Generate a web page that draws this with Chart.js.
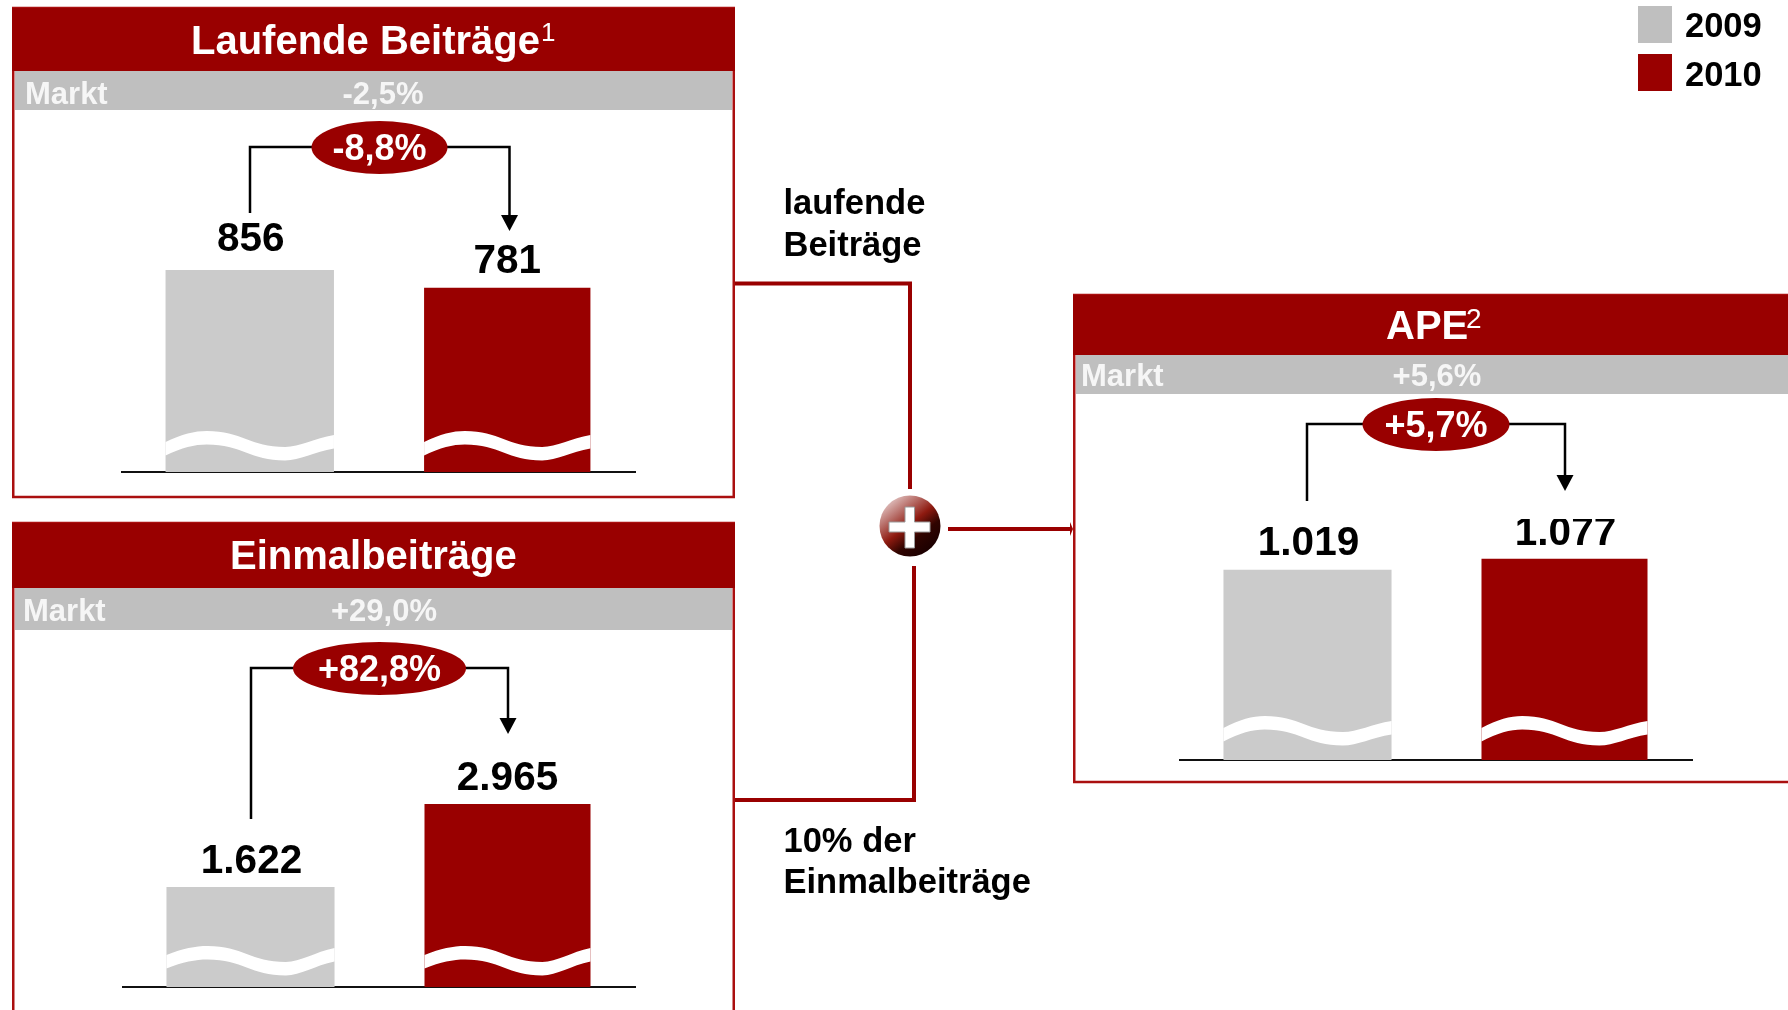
<!DOCTYPE html>
<html lang="de">
<head>
<meta charset="utf-8">
<title>Laufende Beiträge, Einmalbeiträge, APE</title>
<script src="https://cdn.jsdelivr.net/npm/chart.js@4"></script>
<style>
html,body{margin:0;padding:0;background:#fff;width:1788px;height:1010px;overflow:hidden}
canvas{position:absolute;display:block}
svg{position:absolute;left:0;top:0;pointer-events:none}
svg text{font-family:"Liberation Sans",Arial,sans-serif}
</style>
</head>
<body>
<svg id="ov" width="1788" height="1010" viewBox="0 0 1788 1010" xmlns="http://www.w3.org/2000/svg">
<defs>
<linearGradient id="plusGrad" x1="0.18" y1="0.1" x2="0.8" y2="0.9">
<stop offset="0" stop-color="#dcb8b6"/>
<stop offset="0.48" stop-color="#8e1a10"/>
<stop offset="0.72" stop-color="#300400"/>
<stop offset="1" stop-color="#1c0000"/>
</linearGradient>
</defs>
</svg>
<canvas id="c1"></canvas>
<canvas id="c2"></canvas>
<canvas id="c3"></canvas>
<svg id="top" width="1788" height="1010" viewBox="0 0 1788 1010" xmlns="http://www.w3.org/2000/svg"></svg>
<script>
// ---- data ----
const years = ['2009', '2010'];
const laufendeValues = [856, 781];
const einmalValues = [1622, 2965];
const apeValues = [1019, 1077];
const valueLabelsLaufende = ['856', '781'];
const valueLabelsEinmal = ['1.622', '2.965'];
const valueLabelsApe = ['1.019', '1.077'];
const marketLabel = 'Markt';
const marketLaufende = '-2,5%';
const marketEinmal = '+29,0%';
const marketApe = '+5,6%';
const growthLaufende = '-8,8%';
const growthEinmal = '+82,8%';
const growthApe = '+5,7%';

const RED = '#990000', BAR_GREY = '#cbcbcb', BAND_GREY = '#bfbfbf';
const FONT = '"Liberation Sans", Arial, sans-serif';

// ---- white wave cut across each bar, anchored on the bar's own geometry ----
const wavePlugin = {
  id: 'waveAndLabels',
  afterDatasetsDraw(chart, args, o) {
    const ctx = chart.ctx;
    const base = chart.scales.y.getPixelForValue(0);
    chart.data.datasets.forEach((ds, i) => {
      const bar = chart.getDatasetMeta(i).data[i];
      const L = bar.x - bar.width / 2, R = bar.x + bar.width / 2, w = bar.width;
      const xP = L + w * 0.245, xT = L + w * 0.71;
      const yL = base - o.wave[0], yP = base - o.wave[1], yT = base - o.wave[2], yR = base - o.wave[3];
      const d1 = xP - L, d2 = xT - xP, d3 = R - xT;
      const segs = [
        [L + d1 * 0.4, yL - (yL - yP) * 0.72, xP - d1 * 0.3, yP, xP, yP],
        [xP + d2 * 0.45, yP, xT - d2 * 0.45, yT, xT, yT],
        [xT + d3 * 0.3, yT, R - d3 * 0.4, yR + (yT - yR) * 0.28, R, yR]
      ];
      const H = 13.5;
      ctx.save();
      ctx.beginPath();
      ctx.moveTo(L, yL);
      segs.forEach(s => ctx.bezierCurveTo(s[0], s[1], s[2], s[3], s[4], s[5]));
      ctx.lineTo(R, yR + H);
      ctx.bezierCurveTo(segs[2][2], segs[2][3] + H, segs[2][0], segs[2][1] + H, xT, yT + H);
      ctx.bezierCurveTo(segs[1][2], segs[1][3] + H, segs[1][0], segs[1][1] + H, xP, yP + H);
      ctx.bezierCurveTo(segs[0][2], segs[0][3] + H, segs[0][0], segs[0][1] + H, L, yL + H);
      ctx.closePath();
      ctx.fillStyle = '#fff';
      ctx.fill();
      // value label above the bar
      ctx.fillStyle = '#000';
      ctx.font = 'bold 40.5px ' + FONT;
      ctx.textAlign = 'center';
      ctx.textBaseline = 'alphabetic';
      ctx.fillText(o.labels[i], bar.x + o.dx[i], bar.y - o.offsets[i]);
      ctx.restore();
    });
  }
};
Chart.register(wavePlugin);

function makeChart(id, values, labels, box, yMax, wave, offsets, dx) {
  const cv = document.getElementById(id);
  cv.style.left = box.x + 'px';
  cv.style.top = box.y + 'px';
  cv.style.width = box.w + 'px';
  cv.style.height = box.h + 'px';
  cv.width = box.w; cv.height = box.h;
  return new Chart(cv, {
    type: 'bar',
    data: {
      labels: years,
      datasets: [
        { label: years[0], data: [values[0], null], backgroundColor: BAR_GREY, borderWidth: 0, barPercentage: 0.654, categoryPercentage: 1 },
        { label: years[1], data: [null, values[1]], backgroundColor: RED, borderWidth: 0, barPercentage: 0.646, categoryPercentage: 1 }
      ]
    },
    options: {
      responsive: false,
      animation: false,
      events: [],
      layout: { padding: { left: 0, right: 0, top: 0, bottom: 4 } },
      plugins: {
        legend: { display: false },
        tooltip: { enabled: false },
        waveAndLabels: { wave, labels, offsets, dx }
      },
      scales: {
        x: {
          display: true,
          stacked: true,
          grid: { display: false, drawTicks: false },
          border: { display: true, color: '#111', width: 2 },
          ticks: { display: false }
        },
        y: { display: false, stacked: true, min: 0, max: yMax, grid: { display: false } }
      }
    }
  });
}

makeChart('c1', laufendeValues, valueLabelsLaufende, { x: 121, y: 212, w: 515, h: 264 }, 1102, [30, 41, 25, 37], [19, 15], [1, 0]);
makeChart('c2', einmalValues, valueLabelsEinmal, { x: 122, y: 757, w: 514, h: 234 }, 3727, [32, 41, 25, 39], [14, 14], [1, 0]);
makeChart('c3', apeValues, valueLabelsApe, { x: 1179, y: 519, w: 514, h: 245 }, 1290, [32, 44, 28, 39], [15, 14], [1, 1]);

// ---- frames, headers and connectors ----
const NS = 'http://www.w3.org/2000/svg';
function add(parent, tag, attrs, txt) {
  const e = document.createElementNS(NS, tag);
  for (const k in attrs) e.setAttribute(k, attrs[k]);
  if (txt !== undefined) e.textContent = txt;
  parent.appendChild(e);
  return e;
}
const ov = document.getElementById('ov'), tp = document.getElementById('top');
function text(x, y, size, str, opt) {
  opt = opt || {};
  return add(tp, 'text', {
    x, y, 'font-size': size, 'font-weight': opt.weight || 'bold',
    fill: opt.fill || '#000', 'text-anchor': opt.anchor || 'start'
  }, str);
}
function line(pts, color, w) {
  add(tp, 'polyline', { points: pts, fill: 'none', stroke: color, 'stroke-width': w });
}

function panel(p) {
  add(ov, 'rect', { x: p.x0 + 1.25, y: p.y0, width: p.x1 - p.x0 - 2.5, height: p.y1 - p.y0, fill: '#fff', stroke: '#aa0f0f', 'stroke-width': 2.5 });
  add(ov, 'rect', { x: p.x0, y: p.y0, width: p.x1 - p.x0, height: p.head - p.y0, fill: RED });
  add(ov, 'rect', { x: p.x0 + 3, y: p.head, width: p.x1 - p.x0 - 6, height: p.band - p.head, fill: BAND_GREY });
  text(p.titleX, p.titleY, 40, p.title, { fill: '#fff' });
  if (p.sup) add(tp, 'text', { x: p.supX, y: p.supY, 'font-size': p.supSize, fill: '#fff' }, p.sup);
  text(p.marktX, p.bandY, 31, marketLabel, { fill: '#f6f6f6' });
  text(p.mx, p.bandY, 31, p.market, { fill: '#f6f6f6', anchor: 'middle' });
  line(`${p.bl},${p.bEnd} ${p.bl},${p.ey} ${p.br},${p.ey} ${p.br},${p.tip - 14}`, '#000', 2.5);
  add(tp, 'polygon', { points: `${p.br - 8.5},${p.tip - 16} ${p.br + 8.5},${p.tip - 16} ${p.br},${p.tip}`, fill: '#000' });
  add(tp, 'ellipse', { cx: p.ex, cy: p.ey + 0.5, rx: p.erx, ry: 26.5, fill: RED });
  text(p.ex, p.gy, 36, p.growth, { fill: '#fff', anchor: 'middle' });
}

panel({ x0: 12, x1: 735, y0: 8, y1: 497, head: 71, band: 110,
  title: 'Laufende Beiträge', titleX: 191, titleY: 54, sup: '1', supSize: 26, supX: 541, supY: 41,
  marktX: 25, bandY: 104, mx: 383, market: marketLaufende,
  bl: 250, br: 509.5, bEnd: 213, ey: 147, tip: 231, ex: 379.5, erx: 68, gy: 160, growth: growthLaufende });
panel({ x0: 12, x1: 735, y0: 523, y1: 1040, head: 588, band: 630,
  title: 'Einmalbeiträge', titleX: 230, titleY: 569,
  marktX: 23, bandY: 621, mx: 384, market: marketEinmal,
  bl: 251, br: 508, bEnd: 819, ey: 668, tip: 734, ex: 379.5, erx: 86.5, gy: 681, growth: growthEinmal });
panel({ x0: 1073, x1: 1820, y0: 295, y1: 782, head: 355, band: 394,
  title: 'APE', titleX: 1386, titleY: 339, sup: '2', supSize: 28, supX: 1466, supY: 328,
  marktX: 1081, bandY: 386, mx: 1437, market: marketApe,
  bl: 1307, br: 1565, bEnd: 501, ey: 424, tip: 491, ex: 1436, erx: 73.5, gy: 437, growth: growthApe });

// connectors
line('735,283.5 910,283.5 910,489', RED, 4);
line('735,800 914,800 914,566', RED, 4);
line('948,529 1071,529', RED, 4);
add(tp, 'polygon', { points: '1070,522 1070,536 1073,529', fill: RED });
add(tp, 'circle', { cx: 910, cy: 526, r: 30.5, fill: 'url(#plusGrad)' });
add(tp, 'path', { d: 'M905 507h9.5v15h15.5v10h-15.5v16h-9.5v-16h-16v-10h16z', fill: '#fff', stroke: '#999', 'stroke-width': 1 });

text(783.5, 214, 34.5, 'laufende');
text(783.5, 256, 34.5, 'Beiträge');
text(783.5, 852, 34.5, '10% der');
text(783.5, 893, 34.5, 'Einmalbeiträge');

// legend
add(tp, 'rect', { x: 1638, y: 6, width: 34, height: 37, fill: BAND_GREY });
add(tp, 'rect', { x: 1638, y: 54, width: 34, height: 37, fill: RED });
text(1685, 37, 34.5, years[0]);
text(1685, 86, 34.5, years[1]);
</script>
</body>
</html>
